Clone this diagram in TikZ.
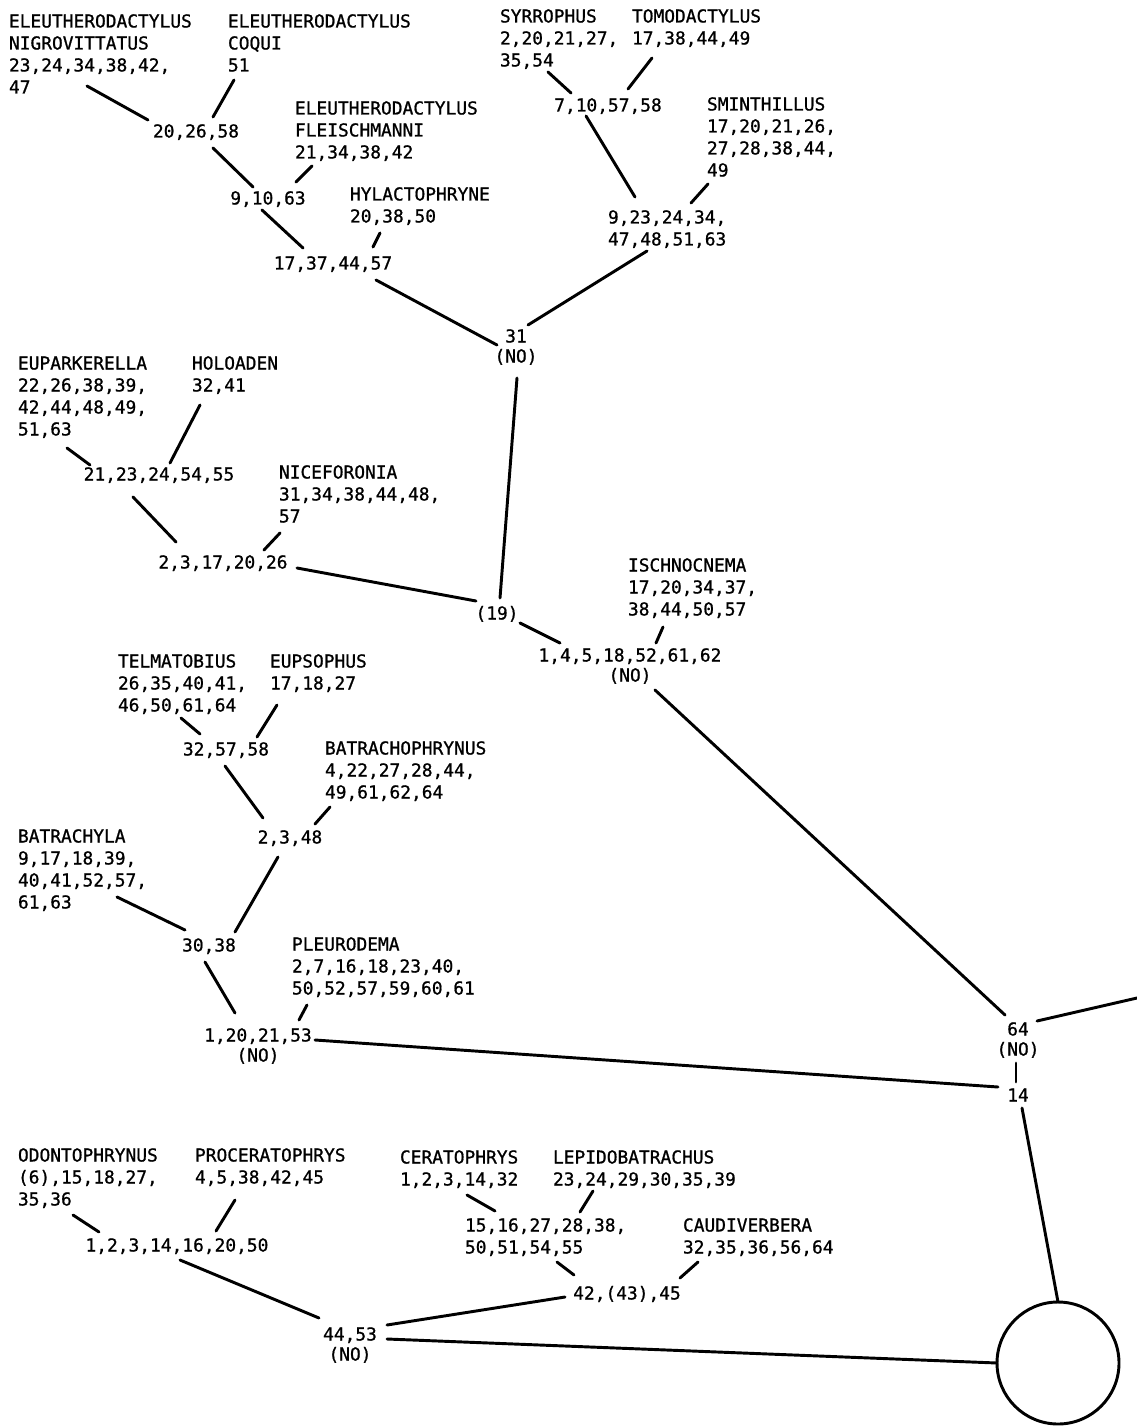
\documentclass[tikz,border=0pt]{standalone}
\usepackage{fontspec}
\newfontfamily\lgfont[FakeBold=0.9]{DejaVu Sans Mono}
\newcommand\sx{\rule{0pt}{12pt}}
\newcommand\cn[4]{\draw[br] ([shift={(#2)}]#1) -- ([shift={(#4)}]#3);}
\begin{document}
\begin{tikzpicture}[x=0.75pt,y=-0.75pt,
  every node/.style={inner sep=0pt, outer sep=0pt},
  tax/.style={anchor=north west, align=left, font=\lgfont\fontsize{13.4}{16.5}\selectfont},
  num/.style={anchor=north, align=center, font=\lgfont\fontsize{13.4}{15}\selectfont},
  numl/.style={anchor=north west, align=left, font=\lgfont\fontsize{13.4}{16.5}\selectfont},
  br/.style={line width=2.2pt, line cap=round}]
\useasboundingbox (0,0) rectangle (1137,1426);
% taxa
\node[tax] (nig) at (9,11.5) {\sx ELEUTHERODACTYLUS\\NIGROVITTATUS\\23,24,34,38,42,\\47};
\node[tax] (coq) at (228,11.5) {\sx ELEUTHERODACTYLUS\\COQUI\\51};
\node[tax] (fle) at (295,98.5) {\sx ELEUTHERODACTYLUS\\FLEISCHMANNI\\21,34,38,42};
\node[tax] (hyl) at (350,184.5) {\sx HYLACTOPHRYNE\\20,38,50};
\node[tax] (syr) at (500,6.5) {\sx SYRROPHUS\\2,20,21,27,\\35,54};
\node[tax] (tom) at (632,6.5) {\sx TOMODACTYLUS\\17,38,44,49};
\node[tax] (smi) at (707,94.5) {\sx SMINTHILLUS\\17,20,21,26,\\27,28,38,44,\\49};
\node[tax] (eup) at (18,353.5) {\sx EUPARKERELLA\\22,26,38,39,\\42,44,48,49,\\51,63};
\node[tax] (hol) at (192,353.5) {\sx HOLOADEN\\32,41};
\node[tax] (nic) at (279,462.5) {\sx NICEFORONIA\\31,34,38,44,48,\\57};
\node[tax] (isc) at (628,555.5) {\sx ISCHNOCNEMA\\17,20,34,37,\\38,44,50,57};
\node[tax] (tel) at (118,651.5) {\sx TELMATOBIUS\\26,35,40,41,\\46,50,61,64};
\node[tax] (eps) at (270,651.5) {\sx EUPSOPHUS\\17,18,27};
\node[tax] (bph) at (325,738.5) {\sx BATRACHOPHRYNUS\\4,22,27,28,44,\\49,61,62,64};
\node[tax] (bla) at (18,826.5) {\sx BATRACHYLA\\9,17,18,39,\\40,41,52,57,\\61,63};
\node[tax] (ple) at (292,934.5) {\sx PLEURODEMA\\2,7,16,18,23,40,\\50,52,57,59,60,61};
\node[tax] (odo) at (18,1145.5) {\sx ODONTOPHRYNUS\\(6),15,18,27,\\35,36};
\node[tax] (pro) at (195,1145.5) {\sx PROCERATOPHRYS\\4,5,38,42,45};
\node[tax] (cer) at (400,1147.5) {\sx CERATOPHRYS\\1,2,3,14,32};
\node[tax] (lep) at (553,1147.5) {\sx LEPIDOBATRACHUS\\23,24,29,30,35,39};
\node[tax] (cau) at (683,1215.5) {\sx CAUDIVERBERA\\32,35,36,56,64};
% internal nodes
\node[num] (a1) at (196,121.5) {\sx 20,26,58};
\node[num] (a2) at (268,188.5) {\sx 9,10,63};
\node[num] (a3) at (333,253.5) {\sx 17,37,44,57};
\node[num] (b1) at (608,95.5) {\sx 7,10,57,58};
\node[numl] (b2) at (608,207.5) {\sx 9,23,24,34,\\47,48,51,63};
\node[num] (n31) at (516,326.5) {\sx 31\\(NO)};
\node[num] (c1) at (159,464.5) {\sx 21,23,24,54,55};
\node[num] (c2) at (223,552.5) {\sx 2,3,17,20,26};
\node[num] (n19) at (497,603.5) {\sx (19)};
\node[num] (n1) at (630,645.5) {\sx 1,4,5,18,52,61,62\\(NO)};
\node[num] (n64) at (1018,1019.5) {\sx 64\\(NO)};
\node[num] (n14) at (1018,1085.5) {\sx 14};
\node[num] (d1) at (226,739.5) {\sx 32,57,58};
\node[num] (d2) at (290,827.5) {\sx 2,3,48};
\node[num] (d3) at (209,935.5) {\sx 30,38};
\node[num] (d4) at (258,1025.5) {\sx 1,20,21,53\\(NO)};
\node[num] (e1) at (177,1235.5) {\sx 1,2,3,14,16,20,50};
\node[numl] (e2) at (465,1215.5) {\sx 15,16,27,28,38,\\50,51,54,55};
\node[num] (e3) at (627,1283.5) {\sx 42,(43),45};
\node[num] (n44) at (350,1324.5) {\sx 44,53\\(NO)};
\node[draw, circle, line width=2.2pt, minimum size=91.5pt] (root) at (1058,1363) {};
\coordinate (redge) at (1137,998);
% connectors
\cn{nig.north west}{78,74.5}{a1.north}{-48,-1.5}
\cn{coq.north west}{6,68.5}{a1.north}{17,-4.5}
\cn{a1.north}{17,26.5}{a2.north}{-15,-1.5}
\cn{fle.north west}{17,67.5}{a2.north}{28,-6.5}
\cn{a2.north}{-6,21.5}{a3.north}{-30,-5.5}
\cn{hyl.north west}{30,48.5}{a3.north}{40,-6.5}
\cn{a3.north}{43,26.5}{n31.north}{-19,18.5}
\cn{syr.north west}{48,65.5}{b1.north}{-37,-2.5}
\cn{tom.north west}{20,51.5}{b1.north}{20,-6.5}
\cn{b1.north}{-22,20.5}{b2.north west}{27,-10.5}
\cn{smi.north west}{1,89.5}{b2.north west}{83,-4.5}
\cn{b2.north west}{39,43.5}{n31.north}{12,-1.5}
\cn{n31.north}{1,51.5}{n19.north}{3,-5.5}
\cn{eup.north west}{49,94.5}{c1.north}{-69,0.5}
\cn{hol.north west}{8,51.5}{c1.north}{11,-1.5}
\cn{c1.north}{-26,32.5}{c2.north}{-47,-10.5}
\cn{nic.north west}{1,70.5}{c2.north}{41,-2.5}
\cn{c2.north}{74,15.5}{n19.north}{-21,-2.5}
\cn{n19.north}{23,19.5}{n1.north}{-70,-2.5}
\cn{isc.north west}{35,71.5}{n1.north}{26,-2.5}
\cn{n1.north}{25,44.5}{n64.north}{-13,-4.5}
\draw[br] ([shift={(19,1.5)}]n64.north) -- (redge);
\cn{n64.north}{-2,43.5}{n14.north}{-2,-3.5}
\cn{d4.north}{57,14.5}{n14.north}{-20,1.5}
\draw[br] ([shift={(4,22.5)}]n14.north) -- (root.north);
\cn{tel.north west}{63,66.5}{d1.north}{-26,-5.5}
\cn{eps.north west}{7,53.5}{d1.north}{31,-2.5}
\cn{d1.north}{-1,26.5}{d2.north}{-27,-9.5}
\cn{bph.north west}{5,68.5}{d2.north}{25,-3.5}
\cn{bla.north west}{99,70.5}{d3.north}{-24,-5.5}
\cn{d2.north}{-12,29.5}{d3.north}{26,-3.5}
\cn{d3.north}{-4,26.5}{d4.north}{-23,-12.5}
\cn{ple.north west}{15,70.5}{d4.north}{41,-5.5}
\cn{odo.north west}{55,69.5}{e1.north}{-78,-3.5}
\cn{pro.north west}{40,54.5}{e1.north}{39,-4.5}
\cn{e1.north}{3,24.5}{n44.north}{-31,-6.5}
\cn{cer.north west}{67,47.5}{e2.north west}{30,-4.5}
\cn{lep.north west}{40,43.5}{e2.north west}{115,-3.5}
\cn{e2.north west}{92,46.5}{e3.north}{-53,-8.5}
\cn{cau.north west}{15,46.5}{e3.north}{53,-5.5}
\cn{e3.north}{-62,13.5}{n44.north}{37,0.5}
\draw[br] ([shift={(37,14.5)}]n44.north) -- (root.west);
\end{tikzpicture}
\end{document}
